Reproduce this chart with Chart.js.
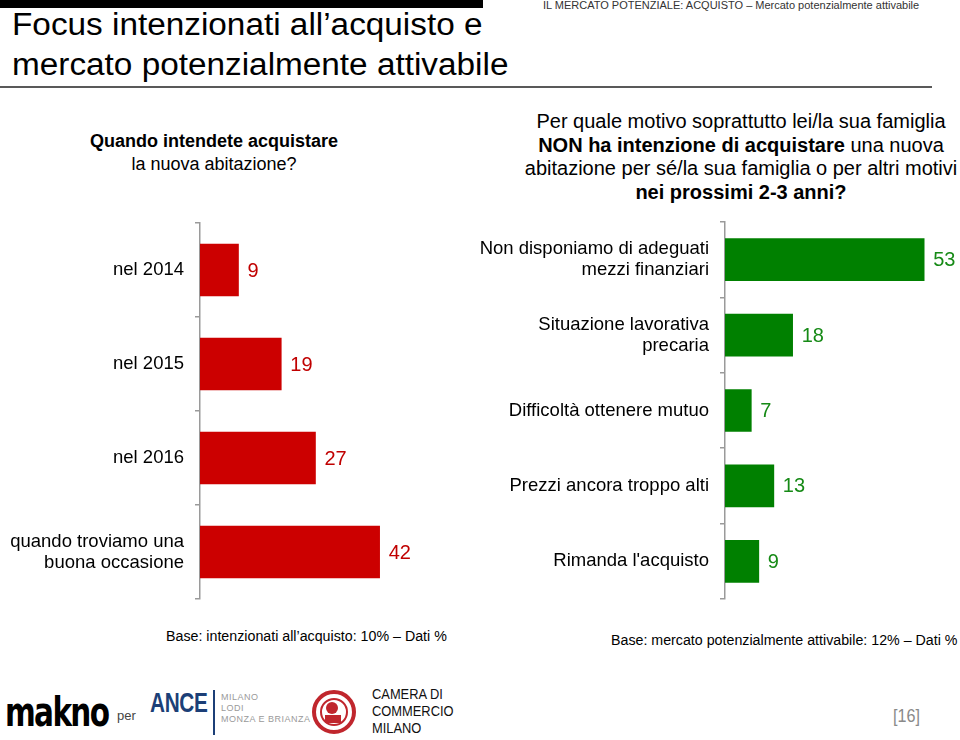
<!DOCTYPE html>
<html>
<head>
<meta charset="utf-8">
<script src="https://cdn.jsdelivr.net/npm/chart.js@4/dist/chart.umd.min.js"></script>
<style>
  body { margin: 0; background: #fff; }
  #page { position: relative; width: 960px; height: 740px; overflow: hidden; font-family: 'Liberation Sans', Arial, sans-serif; color: #000; }
  .abs { position: absolute; }
  #topbar { left: 0; top: 0; width: 483px; height: 8px; background: #000; }
  #title { left: 12px; top: 5px; font-size: 31px; line-height: 40px; white-space: nowrap; transform: scaleX(1.075); transform-origin: left top; }
  #rule { left: 0; top: 86px; width: 932px; height: 2px; background: #595959; }
  #crumb { left: 543px; top: -1px; font-size: 11px; color: #333; white-space: nowrap; }
  #qleft { left: 64px; width: 300px; top: 130px; font-size: 18px; line-height: 23px; text-align: center; }
  #qright { left: 491px; width: 500px; top: 110px; font-size: 20px; line-height: 23.5px; text-align: center; }
  .base { font-size: 15.5px; white-space: nowrap; transform: scaleX(0.918); transform-origin: left top; }
  canvas { position: absolute; }
</style>
</head>
<body>
<div id="page">
  <div class="abs" id="topbar"></div>
  <div class="abs" id="title">Focus intenzionati all’acquisto e<br>mercato potenzialmente attivabile</div>
  <div class="abs" id="rule"></div>
  <div class="abs" id="crumb">IL MERCATO POTENZIALE: ACQUISTO – Mercato potenzialmente attivabile</div>
  <div class="abs" id="qleft"><b>Quando intendete acquistare</b><br>la nuova abitazione?</div>
  <div class="abs" id="qright">Per quale motivo soprattutto lei/la sua famiglia<br><b>NON ha intenzione di acquistare</b> una nuova<br>abitazione per sé/la sua famiglia o per altri motivi<br><b>nei prossimi 2-3 anni?</b></div>

  <canvas id="leftChart" width="480" height="380" style="left:0;top:221px;"></canvas>
  <canvas id="rightChart" width="480" height="381" style="left:480px;top:220px;"></canvas>

  <div class="abs base" style="left:166px;top:627px;">Base: intenzionati all’acquisto: 10% – Dati %</div>
  <div class="abs base" style="left:611px;top:631px;">Base: mercato potenzialmente attivabile: 12% – Dati %</div>

  <!-- footer logos -->
  <div class="abs" style="left:5px;top:689px;font-family:'DejaVu Sans Condensed','DejaVu Sans',sans-serif;font-weight:bold;font-size:40px;letter-spacing:-2px;transform:scaleX(0.82);transform-origin:left top;">makno</div>
  <div class="abs" style="left:117px;top:708px;font-size:13px;color:#444;">per</div>
  <div class="abs" style="left:150px;top:688px;font-size:27px;font-weight:bold;color:#1c3f77;letter-spacing:-0.5px;transform:scaleX(0.77);transform-origin:left top;">ANCE</div>
  <div class="abs" style="left:213px;top:690px;width:1.5px;height:45px;background:#1c3f77;"></div>
  <div class="abs" style="left:221px;top:692px;font-size:9px;line-height:11px;color:#9a9a9a;letter-spacing:0.5px;">MILANO<br>LODI<br>MONZA E BRIANZA</div>
  <svg class="abs" style="left:311px;top:689px;" width="46" height="46" viewBox="0 0 46 46">
    <circle cx="23" cy="23" r="20" fill="none" stroke="#c0262d" stroke-width="4"/>
    <circle cx="23" cy="23" r="13" fill="none" stroke="#c0262d" stroke-width="2"/>
    <circle cx="21" cy="19" r="6" fill="#c0262d"/>
    <rect x="14" y="26" width="16" height="8" fill="#c0262d"/>
  </svg>
  <div class="abs" style="left:372px;top:686px;font-size:14px;line-height:17px;color:#111;transform:scaleX(0.92);transform-origin:left top;">CAMERA DI<br>COMMERCIO<br>MILANO</div>
  <div class="abs" style="left:893px;top:705px;font-size:19px;color:#8a8a8a;transform:scaleX(0.85);transform-origin:left top;">[16]</div>
</div>

<script>
// left chart: quando intendete acquistare
const leftLabels = ['nel 2014', 'nel 2015', 'nel 2016', ['quando troviamo una', 'buona occasione']];
const leftValues = [9, 19, 27, 42];

// right chart: motivi per non acquistare
const rightLabels = [
  ['Non disponiamo di adeguati', 'mezzi finanziari'],
  ['Situazione lavorativa', 'precaria'],
  'Difficoltà ottenere mutuo',
  'Prezzi ancora troppo alti',
  "Rimanda l'acquisto"
];
const rightValues = [53, 18, 7, 13, 9];

const valueLabels = {
  id: 'valueLabels',
  afterDatasetsDraw(chart, args, opts) {
    const ctx = chart.ctx;
    const meta = chart.getDatasetMeta(0);
    const data = chart.data.datasets[0].data;
    ctx.save();
    ctx.font = '20px "Liberation Sans", Arial, sans-serif';
    ctx.fillStyle = opts.color;
    ctx.textAlign = 'left';
    ctx.textBaseline = 'middle';
    meta.data.forEach((bar, i) => {
      ctx.fillText(String(data[i]), bar.x + 9, bar.y + 1);
    });
    ctx.restore();
  }
};

function makeBarChart(id, labels, values, color, labelColor, axisWidth, xMax, thickness) {
  const ctx = document.getElementById(id).getContext('2d');
  return new Chart(ctx, {
    type: 'bar',
    data: {
      labels: labels,
      datasets: [{
        data: values,
        backgroundColor: color,
        borderWidth: 0,
        barThickness: thickness
      }]
    },
    options: {
      indexAxis: 'y',
      responsive: false,
      animation: false,
      layout: { padding: { top: 2, bottom: 2, left: 0, right: 2 } },
      scales: {
        x: { display: false, min: 0, max: xMax },
        y: {
          afterFit: (scale) => {
            scale.width = axisWidth;
            // keep the axis full height, labels may overhang
            scale.paddingTop = 0;
            scale.paddingBottom = 0;
          },
          grid: { drawOnChartArea: false, drawTicks: true, tickLength: 5, color: '#9a9a9a', lineWidth: 1.5 },
          border: { display: true, color: '#9a9a9a', width: 1.5 },
          ticks: {
            color: '#000',
            padding: 11,
            font: { family: '"Liberation Sans", Arial, sans-serif', size: 18.5, lineHeight: 1.14 }
          }
        }
      },
      plugins: {
        legend: { display: false },
        tooltip: { enabled: false },
        valueLabels: { color: labelColor }
      }
    },
    plugins: [valueLabels]
  });
}

makeBarChart('leftChart', leftLabels, leftValues, '#cc0000', '#c00000', 200, 65, 52);
makeBarChart('rightChart', rightLabels, rightValues, '#008000', '#168a16', 245, 62, 42);
</script>
</body>
</html>
